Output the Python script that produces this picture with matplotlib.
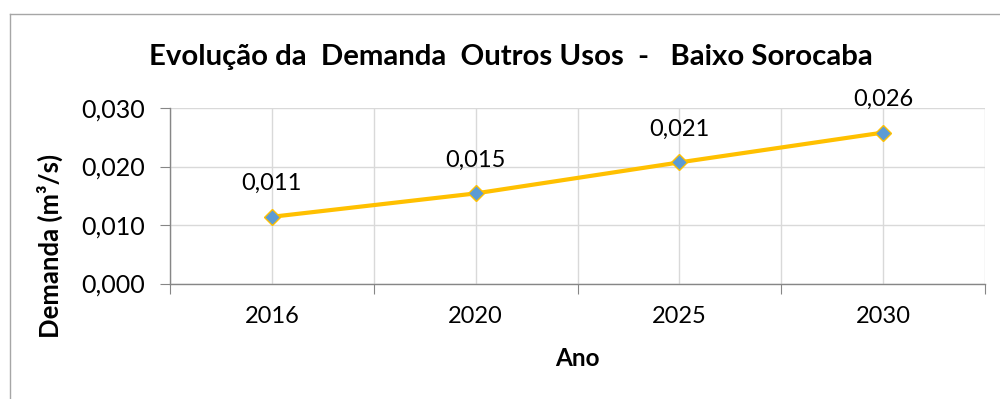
import matplotlib
matplotlib.use("Agg")
import matplotlib.pyplot as plt
from matplotlib.lines import Line2D

anos = ["2016", "2020", "2025", "2030"]
demanda = [0.0114, 0.0154, 0.0207, 0.0258]
yticks = [0.000, 0.010, 0.020, 0.030]

titulo = "Evolução da  Demanda  Outros Usos  -   Baixo Sorocaba"
rotulo_x = "Ano"
rotulo_y = "Demanda (m³/s)"

plt.rcParams["font.family"] = ["Lato", "DejaVu Sans"]

W, H = 1000, 399
fig = plt.figure(figsize=(W / 100, H / 100), dpi=100)

def fx(px):
    return px / W

def fy(py):
    return 1 - py / H

# chart frame
fig.add_artist(Line2D([fx(10), fx(10)], [fy(14), 0], transform=fig.transFigure,
                      color="#A6A6A6", lw=1.0))
fig.add_artist(Line2D([fx(10), 1], [fy(14), fy(14)], transform=fig.transFigure,
                      color="#A6A6A6", lw=1.0))

ax = fig.add_axes([fx(170), fy(283.5), fx(985) - fx(170), fy(108) - fy(283.5)])

x = list(range(len(anos)))
ax.set_xlim(-0.5, len(anos) - 0.5)
ax.set_ylim(0, 0.030)

grid_c = "#D9D9D9"
axis_c = "#868686"

for b in [i - 0.5 for i in range(len(anos) + 1)]:
    ax.axvline(b, color=grid_c, lw=1.0, zorder=1)
for i in x:
    ax.axvline(i, color=grid_c, lw=1.0, zorder=1)
for t in yticks:
    ax.axhline(t, color=grid_c, lw=1.0, zorder=1)

ax.plot(x, demanda, color="#FFC000", lw=3.0, marker="D", markersize=8.5,
        markerfacecolor="#5B9BD5", markeredgecolor="#FFC000", markeredgewidth=1.0,
        zorder=3)

for xi, v in zip(x, demanda):
    ax.annotate(f"{v:.3f}".replace(".", ","), (xi, v), xytext=(0, 24),
                textcoords="offset points", ha="center", va="center",
                fontsize=17, color="black", zorder=4, annotation_clip=False)

for s in ["top", "right"]:
    ax.spines[s].set_visible(False)
for s in ["left", "bottom"]:
    ax.spines[s].set_color(axis_c)
    ax.spines[s].set_linewidth(1.0)

ax.set_yticks(yticks)
ax.set_yticklabels([f"{t:.3f}".replace(".", ",") for t in yticks], fontsize=18)
ax.set_xticks([i - 0.5 for i in range(len(anos) + 1)])
ax.set_xticklabels([])
ax.set_xticks(x, minor=True)
ax.set_xticklabels(anos, minor=True, fontsize=17)
ax.tick_params(axis="y", length=7, color=axis_c, pad=11)
ax.tick_params(axis="x", which="major", length=7, color=axis_c)
ax.tick_params(axis="x", which="minor", length=0, pad=16)

fig.text(fx(511), fy(57), titulo, ha="center", va="center", fontsize=21.2,
         fontweight="bold")
fig.text(fx(577), fy(358), rotulo_x, ha="center", va="center", fontsize=17.5,
         fontweight="bold")
fig.text(fx(50), fy(246), rotulo_y, ha="center", va="center", fontsize=18.5,
         fontweight="bold", rotation=90)

fig.savefig("out.png", dpi=100, facecolor="white")
